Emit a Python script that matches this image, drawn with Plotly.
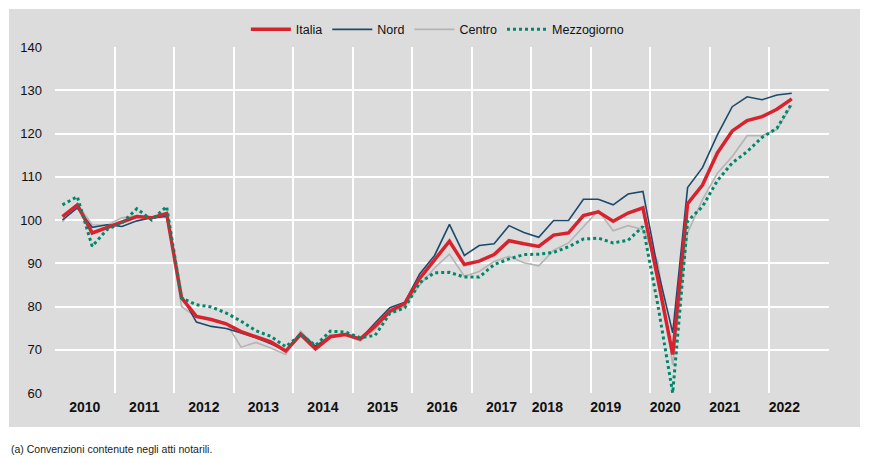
import plotly.graph_objects as go

years = [2010]*4 + [2011]*4 + [2012]*4 + [2013]*4 + [2014]*4 + [2015]*4 + [2016]*4 + \
        [2017]*4 + [2018]*4 + [2019]*4 + [2020]*4 + [2021]*4 + [2022]*2
quarters = [1, 2, 3, 4]*12 + [1, 2]

italia = [100.8, 103.5, 97.0, 98.2, 99.5, 100.8, 100.5, 101.5,
          82.0, 77.7, 77.0, 76.0, 74.2, 73.0, 71.8, 69.7,
          73.5, 70.2, 73.0, 73.5, 72.5, 75.4, 78.9, 80.7,
          86.5, 90.8, 95.1, 89.7, 90.5, 92.0, 95.2, 94.5,
          93.9, 96.5, 97.0, 101.0, 101.9, 99.7, 101.6, 102.8,
          86.4, 68.9, 103.8, 108.1, 115.5, 120.6, 123.0, 123.9,
          125.6, 128.0]
nord = [100.0, 102.8, 98.3, 98.9, 98.5, 99.8, 100.5, 100.8,
        82.5, 76.4, 75.4, 74.9, 73.9, 72.8, 71.4, 69.8,
        73.9, 70.8, 73.1, 73.7, 72.4, 76.2, 79.7, 81.0,
        87.5, 91.8, 99.0, 91.8, 94.1, 94.5, 98.7, 97.1,
        96.0, 99.9, 99.9, 104.8, 104.8, 103.5, 106.0, 106.6,
        88.5, 73.9, 107.5, 112.1, 119.7, 126.2, 128.5, 127.8,
        128.9, 129.3]
centro = [99.6, 103.7, 98.9, 98.8, 100.5, 101.0, 100.7, 101.5,
          80.0, 77.5, 77.0, 76.2, 70.6, 71.7, 70.4, 68.9,
          74.3, 70.8, 73.5, 73.5, 72.0, 74.7, 78.5, 80.0,
          85.0, 88.9, 92.1, 87.0, 88.1, 90.4, 91.6, 90.1,
          89.4, 93.0, 94.7, 98.5, 102.2, 97.5, 98.7, 97.8,
          90.4, 66.5, 97.0, 104.7, 110.8, 114.7, 119.5, 119.5,
          120.9, 126.6]
mezzogiorno = [103.5, 105.4, 93.9, 97.8, 99.3, 102.6, 100.0, 103.1,
               82.0, 80.4, 79.9, 78.5, 76.6, 74.4, 73.1, 70.7,
               73.5, 71.0, 74.3, 74.1, 72.8, 73.3, 78.4, 79.7,
               85.5, 87.8, 87.9, 86.8, 86.8, 89.7, 91.0, 92.0,
               92.1, 92.5, 93.8, 95.6, 95.8, 94.7, 95.3, 98.5,
               80.4, 60.0, 99.7, 103.1, 109.1, 113.2, 115.8, 119.1,
               121.2, 127.0]

year_labels = ["2010", "2011", "2012", "2013", "2014", "2015", "2016",
               "2017", "2018", "2019", "2020", "2021", "2022"]
year_label_pos = [2010.5, 2011.5, 2012.5, 2013.5, 2014.5, 2015.5, 2016.5,
                  2017.5, 2018.27, 2019.25, 2020.25, 2021.25, 2022.25]
y_ticks = [60, 70, 80, 90, 100, 110, 120, 130, 140]

x = [y + (q - 0.5) / 4 for y, q in zip(years, quarters)]

FONT = "Liberation Sans Narrow, Arial Narrow, Liberation Sans, Arial, sans-serif"
PANEL = "#dcdcdc"

fig = go.Figure()
fig.add_trace(go.Scatter(x=x, y=centro, name="Centro", mode="lines",
                         line=dict(color="#b4b4b4", width=1.6), legendrank=3))
fig.add_trace(go.Scatter(x=x, y=nord, name="Nord", mode="lines",
                         line=dict(color="#1c4a6c", width=1.6), legendrank=2))
fig.add_trace(go.Scatter(x=x, y=italia, name="Italia", mode="lines",
                         line=dict(color="#d8232f", width=3.5), legendrank=1))
fig.add_trace(go.Scatter(x=x, y=mezzogiorno, name="Mezzogiorno", mode="lines",
                         line=dict(color="#00876a", width=3, dash="3px,3px"), legendrank=4))

fig.add_shape(type="rect", xref="paper", yref="paper",
              x0=-0.0594, x1=1.040, y0=-0.098, y1=1.110,
              fillcolor=PANEL, line=dict(width=0), layer="below")
fig.add_shape(type="line", xref="paper", yref="y", x0=0, x1=1, y0=100, y1=100,
              line=dict(color="#111111", width=1.6), layer="between")

fig.add_annotation(text="(a) Convenzioni contenute negli atti notarili.",
                   xref="paper", yref="paper", x=-0.0594, y=-0.162,
                   xanchor="left", yanchor="middle", showarrow=False,
                   font=dict(family=FONT, size=10.5, color="#222222"))

fig.update_layout(
    width=879, height=458,
    margin=dict(l=55, r=50, t=47, b=65),
    paper_bgcolor="white", plot_bgcolor=PANEL,
    font=dict(family=FONT, size=13, color="#111111"),
    showlegend=True,
    legend=dict(orientation="h", x=0.494, xanchor="center", y=1.05, yanchor="middle",
                bgcolor="rgba(0,0,0,0)", font=dict(family=FONT, size=12.5),
                traceorder="normal", itemwidth=40, tracegroupgap=0),
    xaxis=dict(range=[2010, 2023], tickmode="array", tickvals=year_label_pos,
               ticktext=year_labels, showgrid=False, zeroline=False,
               tickfont=dict(family=FONT, size=14, color="#111111", weight="bold"),
               ticks="", ticklabelstandoff=4,
               minor=dict(tickmode="linear", tick0=2010, dtick=1, showgrid=True,
                          gridcolor="white", gridwidth=1.6, ticks=""),
               showline=False),
    yaxis=dict(range=[60, 140], tickmode="array", tickvals=y_ticks,
               showgrid=True, gridcolor="white", gridwidth=1.6, zeroline=False,
               ticks="", ticklabelstandoff=12,
               tickfont=dict(family=FONT, size=13, color="#111111")),
)

fig.write_html("out.html", config={"displayModeBar": False},
               post_script="document.body.style.margin='0';document.body.style.padding='0';")
